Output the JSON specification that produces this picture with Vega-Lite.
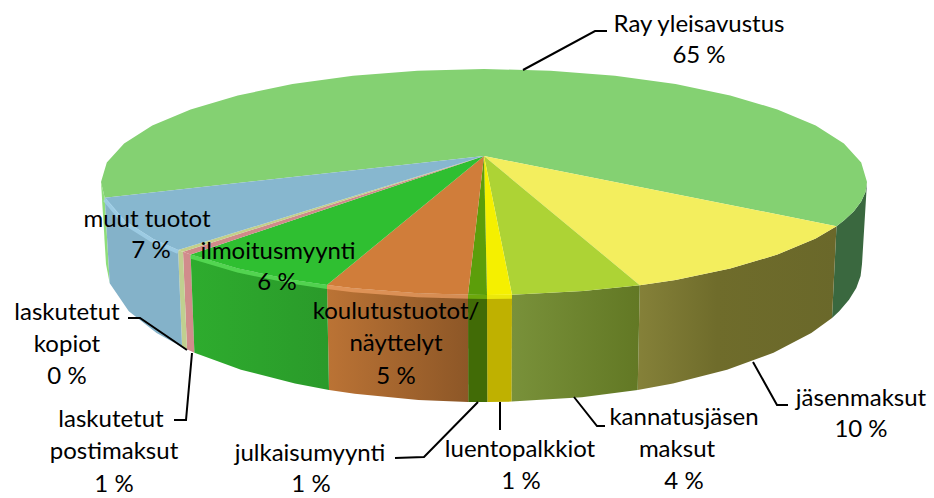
{"$schema":"https://vega.github.io/schema/vega-lite/v6.json","width":934,"height":498,"autosize":{"type":"fit","contains":"padding"},"padding":0,"view":{"stroke":null},"background":"white","config":{"style":{"cell":{"stroke":null}}},
"encoding":{"x":{"field":"x","type":"quantitative","scale":{"domain":[0,934]},"axis":null},"y":{"field":"y","type":"quantitative","scale":{"domain":[498,0]},"axis":null}},
"datasets":{
"tops":[
{"piece":"Ray","i":0,"x":484,"y":156},{"piece":"Ray","i":1,"x":836.5,"y":226.2},{"piece":"Ray","i":2,"x":843.9,"y":220.6},{"piece":"Ray","i":3,"x":853.9,"y":211.2},{"piece":"Ray","i":4,"x":861.2,"y":201.6},{"piece":"Ray","i":5,"x":865.5,"y":191.9},{"piece":"Ray","i":6,"x":867,"y":182},{"piece":"Ray","i":7,"x":861.2,"y":162.4},{"piece":"Ray","i":8,"x":843.9,"y":143.4},{"piece":"Ray","i":9,"x":815.7,"y":125.5},{"piece":"Ray","i":10,"x":777.4,"y":109.4},{"piece":"Ray","i":11,"x":730.2,"y":95.4},{"piece":"Ray","i":12,"x":675.5,"y":84.1},{"piece":"Ray","i":13,"x":615,"y":75.8},{"piece":"Ray","i":14,"x":550.5,"y":70.7},{"piece":"Ray","i":15,"x":484,"y":69},{"piece":"Ray","i":16,"x":417.5,"y":70.7},{"piece":"Ray","i":17,"x":353,"y":75.8},{"piece":"Ray","i":18,"x":292.5,"y":84.1},{"piece":"Ray","i":19,"x":237.8,"y":95.4},{"piece":"Ray","i":20,"x":190.6,"y":109.4},{"piece":"Ray","i":21,"x":152.3,"y":125.5},{"piece":"Ray","i":22,"x":124.1,"y":143.4},{"piece":"Ray","i":23,"x":106.8,"y":162.4},{"piece":"Ray","i":24,"x":101,"y":182},{"piece":"Ray","i":25,"x":104.7,"y":197.7},
{"piece":"jasen","i":0,"x":484,"y":156},{"piece":"jasen","i":1,"x":639.8,"y":285.2},{"piece":"jasen","i":2,"x":675.5,"y":279.9},{"piece":"jasen","i":3,"x":730.2,"y":268.6},{"piece":"jasen","i":4,"x":777.4,"y":254.6},{"piece":"jasen","i":5,"x":815.7,"y":238.5},{"piece":"jasen","i":6,"x":836.5,"y":226.2},
{"piece":"kannatus","i":0,"x":484,"y":156},{"piece":"kannatus","i":1,"x":512,"y":294.7},{"piece":"kannatus","i":2,"x":583.1,"y":291.1},{"piece":"kannatus","i":3,"x":639.8,"y":285.2},
{"piece":"luento","i":0,"x":484,"y":156},{"piece":"luento","i":1,"x":487,"y":295},{"piece":"luento","i":2,"x":512,"y":294.7},
{"piece":"julkaisu","i":0,"x":484,"y":156},{"piece":"julkaisu","i":1,"x":468,"y":294.8},{"piece":"julkaisu","i":2,"x":487,"y":295},
{"piece":"koulutus","i":0,"x":484,"y":156},{"piece":"koulutus","i":1,"x":327,"y":285},{"piece":"koulutus","i":2,"x":353,"y":288.2},{"piece":"koulutus","i":3,"x":417.5,"y":293.3},{"piece":"koulutus","i":4,"x":468,"y":294.8},
{"piece":"ilmoitus","i":0,"x":484,"y":156},{"piece":"ilmoitus","i":1,"x":190.6,"y":254.6},{"piece":"ilmoitus","i":2,"x":237.8,"y":268.6},{"piece":"ilmoitus","i":3,"x":292.5,"y":279.9},{"piece":"ilmoitus","i":4,"x":327,"y":285},
{"piece":"posti","i":0,"x":484,"y":156},{"piece":"posti","i":1,"x":183,"y":251.8},{"piece":"posti","i":2,"x":190.6,"y":254.6},
{"piece":"kopiot","i":0,"x":484,"y":156},{"piece":"kopiot","i":1,"x":178.1,"y":250},{"piece":"kopiot","i":2,"x":183,"y":251.8},
{"piece":"muut","i":0,"x":484,"y":156},{"piece":"muut","i":1,"x":104.7,"y":197.7},{"piece":"muut","i":2,"x":124.1,"y":220.6},{"piece":"muut","i":3,"x":152.3,"y":238.5},{"piece":"muut","i":4,"x":178.1,"y":250}
],
"sides":[
{"piece":"RayR","i":0,"x":867,"y":182},{"piece":"RayR","i":1,"x":865.5,"y":191.9},{"piece":"RayR","i":2,"x":861.2,"y":201.6},{"piece":"RayR","i":3,"x":853.9,"y":211.2},{"piece":"RayR","i":4,"x":843.9,"y":220.6},{"piece":"RayR","i":5,"x":836.5,"y":226.2},{"piece":"RayR","i":6,"x":832,"y":317.9},{"piece":"RayR","i":7,"x":839.2,"y":311.2},{"piece":"RayR","i":8,"x":849,"y":299.7},{"piece":"RayR","i":9,"x":856.3,"y":288},{"piece":"RayR","i":10,"x":860.6,"y":276},{"piece":"RayR","i":11,"x":862,"y":264},
{"piece":"RayL","i":0,"x":101,"y":182},{"piece":"RayL","i":1,"x":104.7,"y":197.7},{"piece":"RayL","i":2,"x":109.7,"y":283.2},{"piece":"RayL","i":3,"x":106,"y":264},
{"piece":"jasen","i":0,"x":639.8,"y":285.2},{"piece":"jasen","i":1,"x":675.5,"y":279.9},{"piece":"jasen","i":2,"x":730.2,"y":268.6},{"piece":"jasen","i":3,"x":777.4,"y":254.6},{"piece":"jasen","i":4,"x":815.7,"y":238.5},{"piece":"jasen","i":5,"x":836.5,"y":226.2},{"piece":"jasen","i":6,"x":832,"y":317.9},{"piece":"jasen","i":7,"x":811.3,"y":333},{"piece":"jasen","i":8,"x":773.5,"y":352.7},{"piece":"jasen","i":9,"x":727,"y":369.7},{"piece":"jasen","i":10,"x":673,"y":383.5},{"piece":"jasen","i":11,"x":637.7,"y":390},
{"piece":"kannatus","i":0,"x":512,"y":294.7},{"piece":"kannatus","i":1,"x":583.1,"y":291.1},{"piece":"kannatus","i":2,"x":639.8,"y":285.2},{"piece":"kannatus","i":3,"x":637.7,"y":390},{"piece":"kannatus","i":4,"x":581.8,"y":397.3},{"piece":"kannatus","i":5,"x":511.7,"y":401.6},
{"piece":"luento","i":0,"x":487,"y":295},{"piece":"luento","i":1,"x":512,"y":294.7},{"piece":"luento","i":2,"x":511.7,"y":401.6},{"piece":"luento","i":3,"x":487.3,"y":402},
{"piece":"julkaisu","i":0,"x":468,"y":294.8},{"piece":"julkaisu","i":1,"x":487,"y":295},{"piece":"julkaisu","i":2,"x":487.3,"y":402},{"piece":"julkaisu","i":3,"x":468.2,"y":401.9},
{"piece":"koulutus","i":0,"x":327,"y":285},{"piece":"koulutus","i":1,"x":353,"y":288.2},{"piece":"koulutus","i":2,"x":417.5,"y":293.3},{"piece":"koulutus","i":3,"x":468,"y":294.8},{"piece":"koulutus","i":4,"x":468.2,"y":401.9},{"piece":"koulutus","i":5,"x":418.4,"y":399.9},{"piece":"koulutus","i":6,"x":354.7,"y":393.7},{"piece":"koulutus","i":7,"x":329,"y":389.9},
{"piece":"ilmoitus","i":0,"x":190.6,"y":254.6},{"piece":"ilmoitus","i":1,"x":237.8,"y":268.6},{"piece":"ilmoitus","i":2,"x":292.5,"y":279.9},{"piece":"ilmoitus","i":3,"x":327,"y":285},{"piece":"ilmoitus","i":4,"x":329,"y":389.9},{"piece":"ilmoitus","i":5,"x":295,"y":383.5},{"piece":"ilmoitus","i":6,"x":241,"y":369.7},{"piece":"ilmoitus","i":7,"x":194.4,"y":352.7},
{"piece":"posti","i":0,"x":183,"y":251.8},{"piece":"posti","i":1,"x":190.6,"y":254.6},{"piece":"posti","i":2,"x":194.4,"y":352.7},{"piece":"posti","i":3,"x":187,"y":349.3},
{"piece":"kopiot","i":0,"x":178.1,"y":250},{"piece":"kopiot","i":1,"x":183,"y":251.8},{"piece":"kopiot","i":2,"x":187,"y":349.3},{"piece":"kopiot","i":3,"x":182.1,"y":347},
{"piece":"muut","i":0,"x":104.7,"y":197.7},{"piece":"muut","i":1,"x":124.1,"y":220.6},{"piece":"muut","i":2,"x":152.3,"y":238.5},{"piece":"muut","i":3,"x":178.1,"y":250},{"piece":"muut","i":4,"x":182.1,"y":347},{"piece":"muut","i":5,"x":156.6,"y":333},{"piece":"muut","i":6,"x":128.8,"y":311.2},{"piece":"muut","i":7,"x":109.7,"y":283.2}
],
"rims":[
{"piece":"muut","i":0,"x":104.7,"y":199.7},{"piece":"muut","i":1,"x":124.1,"y":222.6},{"piece":"muut","i":2,"x":152.3,"y":240.5},{"piece":"muut","i":3,"x":178.1,"y":252},
{"piece":"ilmoitus","i":0,"x":190.6,"y":256.6},{"piece":"ilmoitus","i":1,"x":237.8,"y":270.6},{"piece":"ilmoitus","i":2,"x":292.5,"y":281.9},{"piece":"ilmoitus","i":3,"x":327,"y":287},
{"piece":"koulutus","i":0,"x":327,"y":287},{"piece":"koulutus","i":1,"x":353,"y":290.2},{"piece":"koulutus","i":2,"x":417.5,"y":295.3},{"piece":"koulutus","i":3,"x":468,"y":296.8},
{"piece":"julkaisu","i":0,"x":468,"y":296.8},{"piece":"julkaisu","i":1,"x":487,"y":297},
{"piece":"luento","i":0,"x":487,"y":297},{"piece":"luento","i":1,"x":512,"y":296.7}
],
"leaders":[
{"name":"a","i":0,"x":523,"y":70},{"name":"a","i":1,"x":595,"y":31},{"name":"a","i":2,"x":607,"y":31},
{"name":"b","i":0,"x":753,"y":362},{"name":"b","i":1,"x":777,"y":405},{"name":"b","i":2,"x":788,"y":405},
{"name":"c","i":0,"x":574,"y":397},{"name":"c","i":1,"x":597,"y":426},{"name":"c","i":2,"x":605,"y":426},
{"name":"d","i":0,"x":500,"y":402},{"name":"d","i":1,"x":500,"y":430},
{"name":"e","i":0,"x":478,"y":402},{"name":"e","i":1,"x":424,"y":457},{"name":"e","i":2,"x":395,"y":458},
{"name":"f","i":0,"x":192,"y":353},{"name":"f","i":1,"x":186,"y":420},{"name":"f","i":2,"x":174,"y":420},
{"name":"g","i":0,"x":187,"y":350},{"name":"g","i":1,"x":140,"y":318},{"name":"g","i":2,"x":128,"y":318}
],
"labels":[
{"t":"Ray yleisavustus","x":699,"y":25},{"t":"65 %","x":699,"y":56},
{"t":"muut tuotot","x":147,"y":220},{"t":"7 %","x":151,"y":251},
{"t":"ilmoitusmyynti","x":278,"y":252},{"t":"6 %","x":277,"y":283},
{"t":"koulutustuotot/","x":396,"y":312},{"t":"näyttelyt","x":396,"y":344},{"t":"5 %","x":396,"y":377},
{"t":"laskutetut","x":67,"y":313},{"t":"kopiot","x":67,"y":345},{"t":"0 %","x":67,"y":377},
{"t":"laskutetut","x":111,"y":420},{"t":"postimaksut","x":114,"y":452},{"t":"1 %","x":114,"y":485},
{"t":"julkaisumyynti","x":310,"y":454},{"t":"1 %","x":311,"y":485},
{"t":"luentopalkkiot","x":520,"y":450},{"t":"1 %","x":521,"y":482},
{"t":"kannatusjäsen","x":684,"y":418},{"t":"maksut","x":677,"y":450},{"t":"4 %","x":684,"y":482},
{"t":"jäsenmaksut","x":861,"y":399},{"t":"10 %","x":861,"y":430}
]},
"layer":[
{"data":{"name":"sides"},"transform":[{"filter":"indexof(['jasen','kannatus','koulutus','ilmoitus'],datum.piece)<0"}],"mark":{"type":"line","filled":true,"strokeWidth":0},
"encoding":{"order":{"field":"i","type":"quantitative"},
"fill":{"field":"piece","type":"nominal","legend":null,"scale":{"domain":["RayR","RayL","luento","julkaisu","posti","kopiot","muut"],"range":["#3a683f","#8ede7a","#bfb100","#416b06","#d18c8c","#c0cf90","#84b2c9"]}}}},
{"data":{"name":"sides"},"transform":[{"filter":"datum.piece=='jasen'"}],"mark":{"type":"line","filled":true,"strokeWidth":0,"fill":{"gradient":"linear","x1":0,"y1":0,"x2":1,"y2":0,"stops":[{"offset":0,"color":"#858139"},{"offset":0.4,"color":"#6f6c2b"},{"offset":1,"color":"#6a682a"}]}},"encoding":{"order":{"field":"i","type":"quantitative"}}},
{"data":{"name":"sides"},"transform":[{"filter":"datum.piece=='kannatus'"}],"mark":{"type":"line","filled":true,"strokeWidth":0,"fill":{"gradient":"linear","x1":0,"y1":0,"x2":1,"y2":0,"stops":[{"offset":0,"color":"#79913a"},{"offset":1,"color":"#627824"}]}},"encoding":{"order":{"field":"i","type":"quantitative"}}},
{"data":{"name":"sides"},"transform":[{"filter":"datum.piece=='koulutus'"}],"mark":{"type":"line","filled":true,"strokeWidth":0,"fill":{"gradient":"linear","x1":0,"y1":0,"x2":1,"y2":0,"stops":[{"offset":0,"color":"#bb7335"},{"offset":1,"color":"#8d5727"}]}},"encoding":{"order":{"field":"i","type":"quantitative"}}},
{"data":{"name":"sides"},"transform":[{"filter":"datum.piece=='ilmoitus'"}],"mark":{"type":"line","filled":true,"strokeWidth":0,"fill":{"gradient":"linear","x1":0,"y1":0,"x2":1,"y2":0,"stops":[{"offset":0,"color":"#2eac2e"},{"offset":1,"color":"#2a9a2a"}]}},"encoding":{"order":{"field":"i","type":"quantitative"}}},
{"data":{"name":"tops"},"mark":{"type":"line","filled":true,"strokeWidth":0},
"encoding":{"order":{"field":"i","type":"quantitative"},
"fill":{"field":"piece","type":"nominal","legend":null,"scale":{"domain":["Ray","jasen","kannatus","luento","julkaisu","koulutus","ilmoitus","posti","kopiot","muut"],"range":["#84d172","#f3ee5e","#add335","#f5f000","#5c9e0a","#d07d3a","#2fbf31","#d08a8a","#c3d08a","#87b7cf"]}}}},
{"data":{"name":"rims"},"mark":{"type":"line","strokeWidth":4,"strokeCap":"butt","opacity":0.7},
"encoding":{"order":{"field":"i","type":"quantitative"},
"stroke":{"field":"piece","type":"nominal","legend":null,"scale":{"domain":["muut","ilmoitus","koulutus","julkaisu","luento"],"range":["#a6d6ee","#62e860","#f2a266","#7fc20f","#ffff10"]}}}},
{"data":{"name":"leaders"},"mark":{"type":"line","color":"#000000","strokeWidth":2},
"encoding":{"order":{"field":"i","type":"quantitative"},"detail":{"field":"name","type":"nominal"}}},
{"data":{"name":"labels"},"mark":{"type":"text","font":"Lato","fontSize":24,"color":"#000000","align":"center","baseline":"middle"},
"encoding":{"text":{"field":"t","type":"nominal"}}}
],
"resolve":{"scale":{"fill":"independent","stroke":"independent"}}}
